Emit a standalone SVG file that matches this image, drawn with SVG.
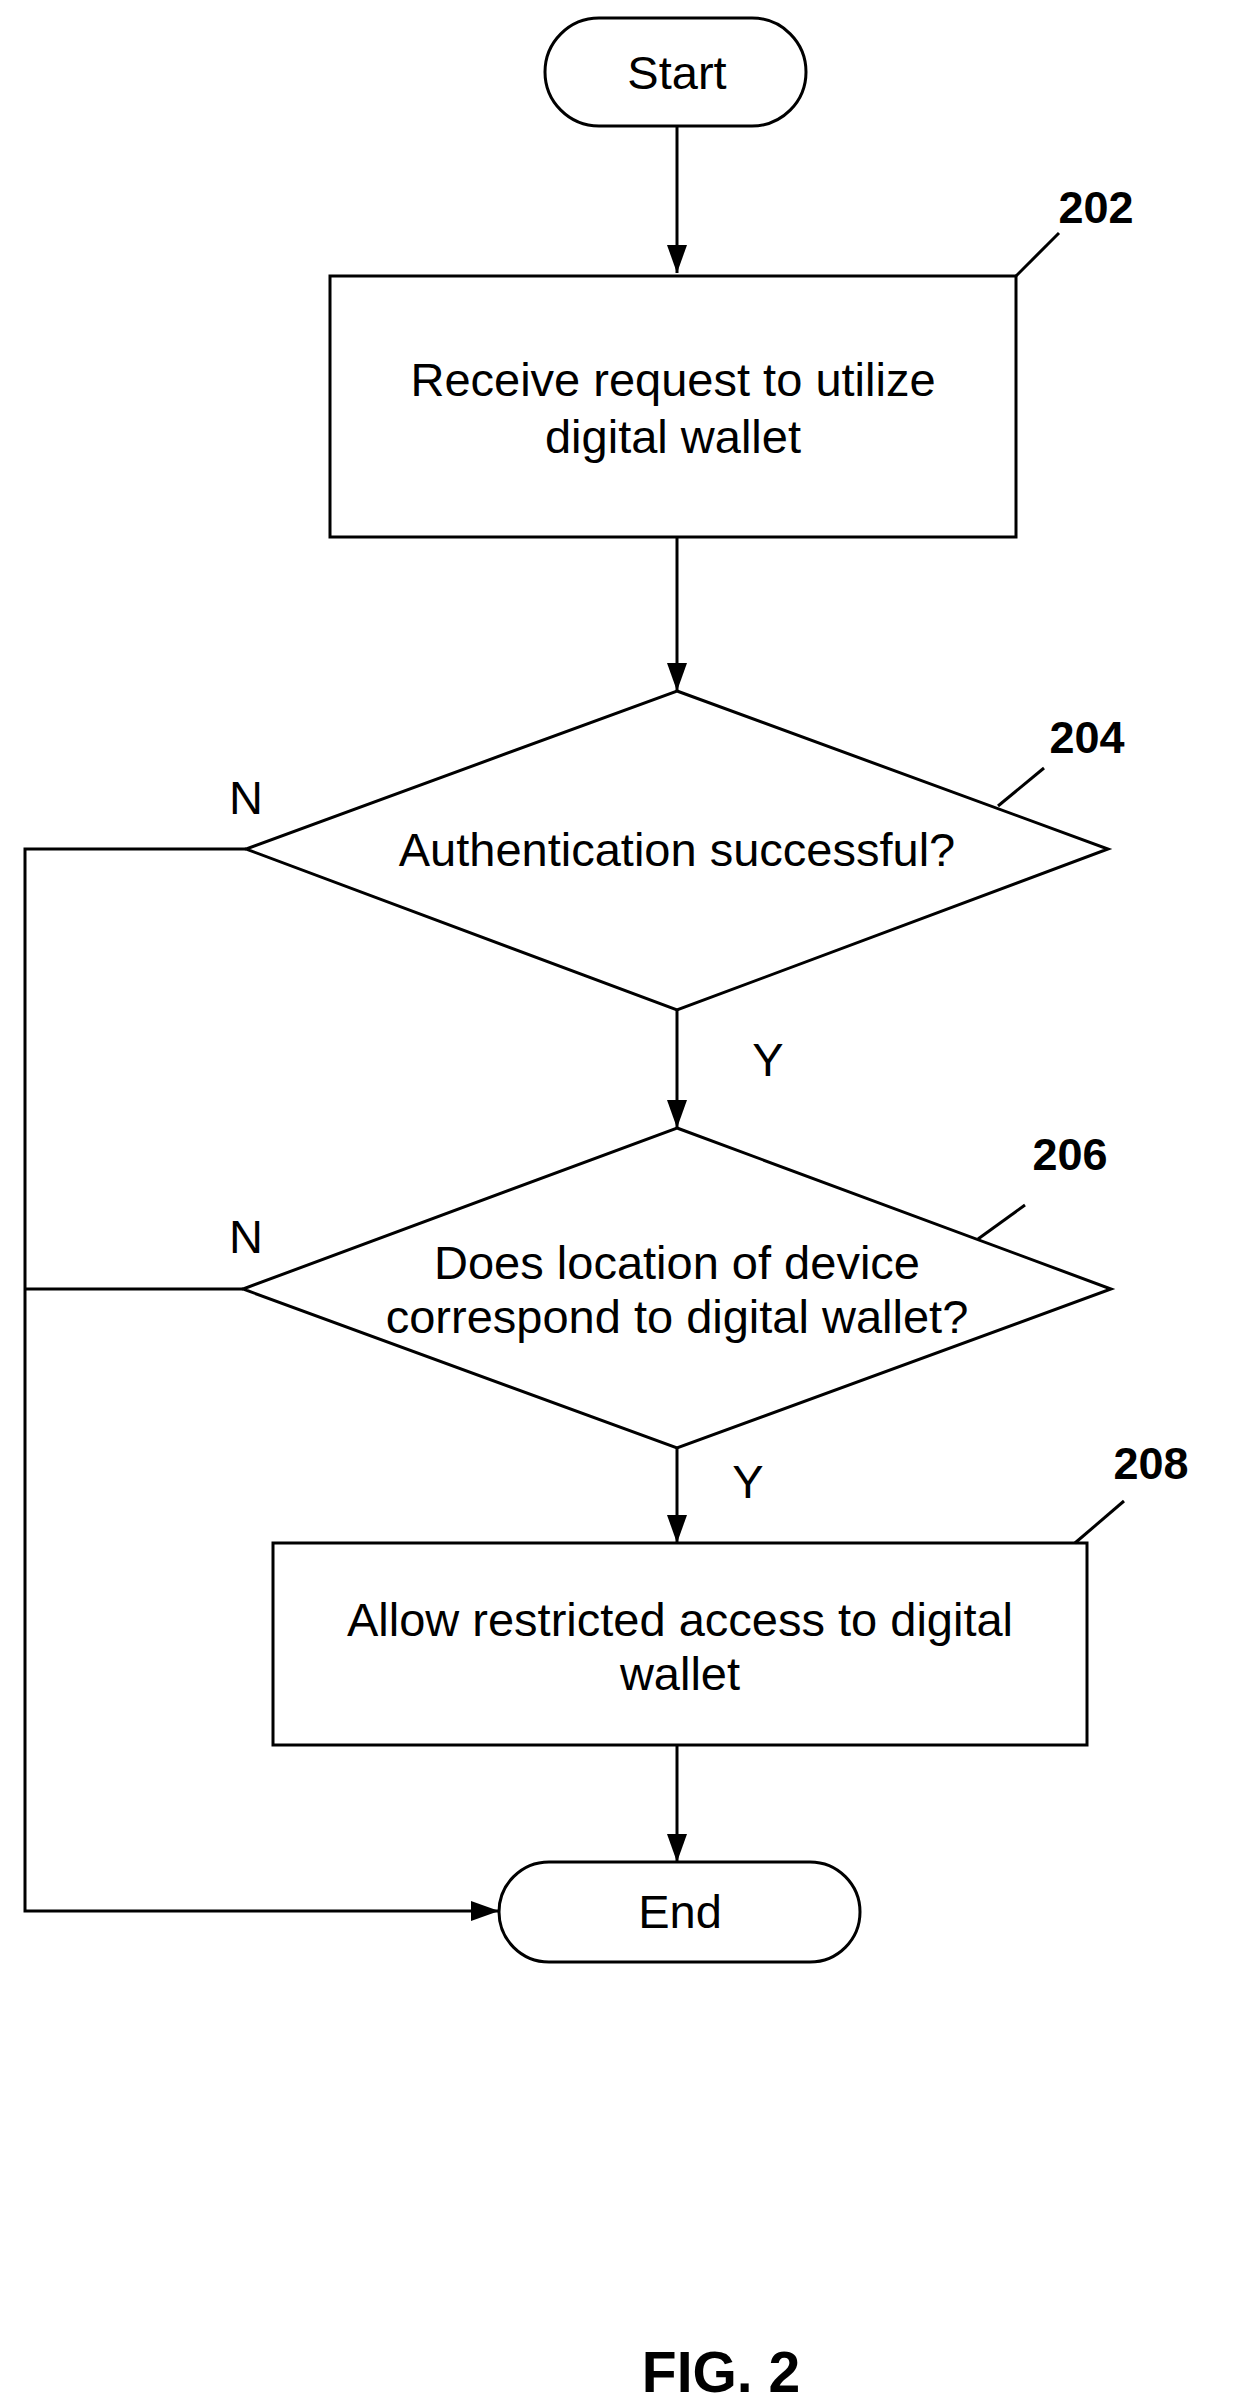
<svg xmlns="http://www.w3.org/2000/svg" width="1243" height="2407" viewBox="0 0 1243 2407">
<style>
.s{fill:#fff;stroke:#000;stroke-width:3}
.c{fill:none;stroke:#000;stroke-width:3}
.t{font-family:"Liberation Sans",Arial,sans-serif;font-size:47px;text-anchor:middle;fill:#000}
.r{font-family:"Liberation Sans",Arial,sans-serif;font-size:45px;font-weight:bold;text-anchor:middle;fill:#000}
</style>
<defs>
<marker id="b" viewBox="0 0 10 10" refX="10" refY="5" markerWidth="28" markerHeight="20" markerUnits="userSpaceOnUse" orient="auto" preserveAspectRatio="none"><path d="M0,0L10,5L0,10z" fill="#000"/></marker></defs>
<rect width="1243" height="2407" fill="#fff"/>
<g id="connectors">
<line class="c" x1="677" y1="126" x2="677" y2="273" marker-end="url(#b)"/>
<line class="c" x1="677" y1="537" x2="677" y2="691" marker-end="url(#b)"/>
<line class="c" x1="677" y1="1010" x2="677" y2="1128" marker-end="url(#b)"/>
<line class="c" x1="677" y1="1448" x2="677" y2="1543" marker-end="url(#b)"/>
<line class="c" x1="677" y1="1745" x2="677" y2="1862" marker-end="url(#b)"/>
<polyline class="c" points="246,849 25,849 25,1911 499,1911" marker-end="url(#b)"/>
<line class="c" x1="243" y1="1289" x2="25" y2="1289"/>
<text class="t" x="246" y="814">N</text>
<text class="t" x="246" y="1253">N</text>
<text class="t" x="768" y="1076">Y</text>
<text class="t" x="748" y="1498">Y</text>
</g>
<g id="start"><rect class="s" x="545" y="18" width="261" height="108" rx="54"/><text class="t" x="677" y="89">Start</text></g>
<g id="n202"><rect class="s" x="330" y="276" width="686" height="261"/><text class="t" x="673" y="396">Receive request to utilize</text><text class="t" x="673" y="453">digital wallet</text>
<line class="c" x1="1016" y1="276" x2="1059" y2="233"/><text class="r" x="1096" y="223">202</text></g>
<g id="n204"><polygon class="s" points="677,691 1108,849 677,1010 246,849"/><text class="t" x="677" y="866">Authentication successful?</text>
<line class="c" x1="998" y1="806" x2="1044" y2="768"/><text class="r" x="1087" y="753">204</text></g>
<g id="n206"><polygon class="s" points="677,1128 1111,1289 677,1448 243,1289"/><text class="t" x="677" y="1279">Does location of device</text><text class="t" x="677" y="1333">correspond to digital wallet?</text>
<line class="c" x1="978" y1="1239" x2="1025" y2="1205"/><text class="r" x="1070" y="1170">206</text></g>
<g id="n208"><rect class="s" x="273" y="1543" width="814" height="202"/><text class="t" x="680" y="1636">Allow restricted access to digital</text><text class="t" x="680" y="1690">wallet</text>
<line class="c" x1="1075" y1="1543" x2="1124" y2="1501"/><text class="r" x="1151" y="1479">208</text></g>
<g id="end"><rect class="s" x="499" y="1862" width="361" height="100" rx="50"/><text class="t" x="680" y="1928">End</text></g>
<text x="721" y="2392" font-family="Liberation Sans,Arial,sans-serif" font-size="57" font-weight="bold" text-anchor="middle">FIG. 2</text>
</svg>
